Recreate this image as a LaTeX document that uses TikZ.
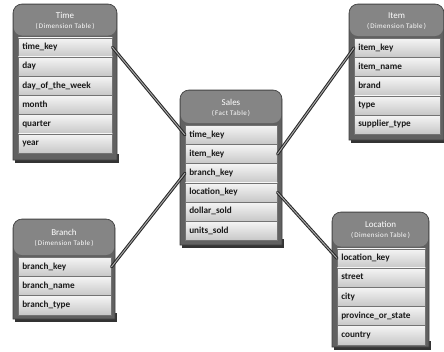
\documentclass[tikz,border=0pt]{standalone}
\usepackage{fontspec}
\setmainfont{Carlito}
\begin{document}
\begin{tikzpicture}[x=1pt,y=-1pt,
  frame/.style={fill=black!62, draw=black!75, line width=0.6pt},
  shadowbox/.style={fill=black!80},
  title/.style={text=white, font=\fontsize{9}{10}\selectfont, align=center, inner sep=0pt},
  rowbox/.style={draw=black!55, line width=0.5pt, top color=black!4, bottom color=black!22,
    anchor=north west, inner xsep=4pt, inner ysep=0pt, text=black!90,
    font=\bfseries\fontsize{9.2}{10}\selectfont, text height=6.5pt, text depth=2pt, align=left},
  link/.style={draw=black!85, line width=1pt, double=black!35, double distance=1pt, line cap=round}]

\useasboundingbox (0,0) rectangle (444,351);
\fill[white] (0,0) rectangle (444,351);

\newcommand\subtitle[1]{{\fontsize{7}{8}\selectfont\addfontfeature{LetterSpace=6}(\,#1\,)}}

% #1 id, #2 left, #3 top, #4 right, #5 bottom, #6 header bottom,
% #7 row left, #8 row right, #9 title, then subtitle and rows
\newcommand\dbtable[9]{%
  \def\tid{#1}\def\tl{#2}\def\tt{#3}\def\tr{#4}\def\tb{#5}\def\th{#6}%
  \def\rl{#7}\def\rr{#8}\def\ttitle{#9}\dbtablecont}
\newcommand\dbtablecont[2]{%
  \fill[shadowbox] (\tl+1.5,\tb-6) rectangle (\tr+1.5,\tb+2.5);
  \path[frame] (\tl,\tb) [rounded corners=9pt] -- (\tl,\tt) -- (\tr,\tt) [sharp corners] -- (\tr,\tb) -- cycle;
  \fill[black!48, rounded corners=8pt] (\tl+0.8,\th-2) -- (\tl+0.8,\tt+0.8) -- (\tr-0.8,\tt+0.8) -- (\tr-0.8,\th-2) -- cycle;
  \node[title] (\tid-head) at ({(\tl+\tr)/2},{(\tt+\th)/2}) {\ttitle\\[0pt]\subtitle{#1}};
  \foreach \rtext [count=\i] in {#2} {
    \node[rowbox, minimum width={\rr-\rl}, minimum height=19.2, text width={\rr-\rl-8}]
      (\tid-\i) at (\rl,{\th+(\i-1)*19.2}) {\rtext};
  }%
}

% Time dimension
\dbtable{T}{13}{4}{117}{160}{37.5}{18}{112}{Time}{Dimension Table}{time\_key,day,day\_of\_the\_week,month,quarter,year}
% Item dimension
\dbtable{I}{349}{4}{444}{140}{38}{354}{440}{Item}{Dimension Table}{item\_key,item\_name,brand,type,supplier\_type}
% Branch dimension
\dbtable{B}{13}{219}{115}{319}{257}{18}{111}{Branch}{Dimension Table}{branch\_key,branch\_name,branch\_type}
% Location dimension
\dbtable{L}{332}{212}{429}{347}{248.5}{337}{425}{Location}{Dimension Table}{location\_key,street,city,province\_or\_state,country}

% Sales fact table
\dbtable{S}{180}{90}{282}{245}{125}{185}{277}{Sales}{Fact Table}{time\_key,item\_key,branch\_key,location\_key,dollar\_sold,units\_sold}

% Foreign key links
\draw[link] (T-1.east) -- (S-1.west);
\draw[link] (I-1.west) -- (S-2.east);
\draw[link] (B-1.east) -- (S-3.west);
\draw[link] (L-1.west) -- (S-4.east);
\end{tikzpicture}
\end{document}
